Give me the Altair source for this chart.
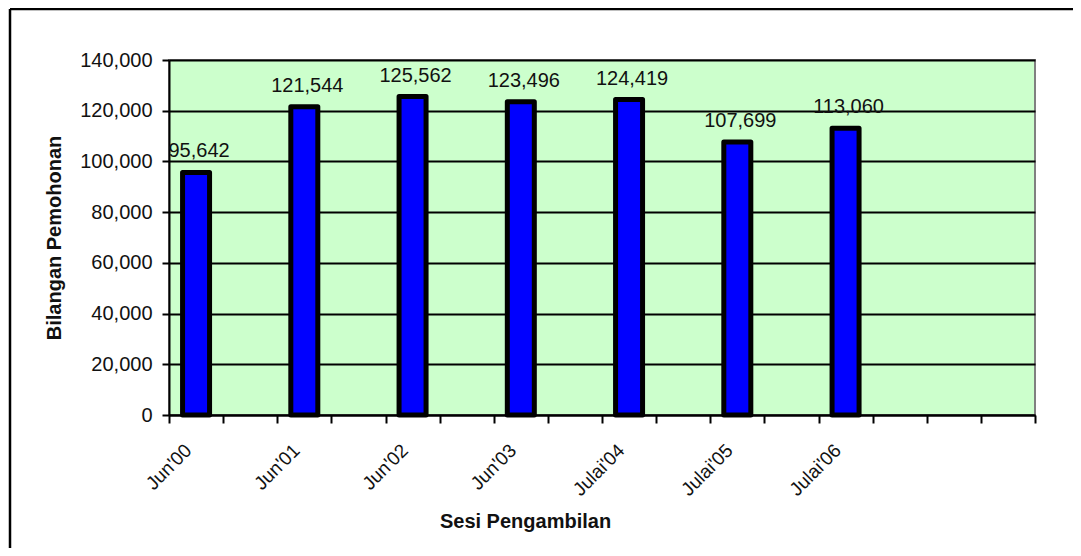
import altair as alt
import pandas as pd

# Data
sessions = ["Jun'00", "Jun'01", "Jun'02", "Jun'03", "Julai'04", "Julai'05", "Julai'06"]
applicants = [95642, 121544, 125562, 123496, 124419, 107699, 113060]
y_ticks = [0, 20000, 40000, 60000, 80000, 100000, 120000, 140000]

# category slots: every session is followed by an empty slot, plus two trailing empty slots
slots = []
for i, s in enumerate(sessions):
    slots.append(s)
    slots.append(f"_gap{i}")
slots += ["_gap7", "_gap8"]

df = pd.DataFrame({"Sesi": sessions, "Bilangan": applicants})

W, H = 866, 355
FONT = "Liberation Sans"

x_enc = alt.X(
    "Sesi:N",
    scale=alt.Scale(domain=slots, paddingInner=0, paddingOuter=0),
    sort=slots,
    axis=alt.Axis(
        title="Sesi Pengambilan",
        labelExpr="indexof(datum.label, '_') == 0 ? '' : datum.label",
        labelAngle=-45,
        labelAlign="right",
        labelBaseline="middle",
        labelOffset=-8,
        labelPadding=24,
        labelFontSize=19,
        labelFont=FONT,
        labelColor="#111111",
        tickBand="extent",
        tickSize=8,
        tickWidth=2,
        tickColor="black",
        domainColor="black",
        domainWidth=2,
        grid=False,
        titleFont=FONT,
        titleFontSize=20,
        titleFontWeight="bold",
        titleColor="#111111",
        titleX=356,
        titleY=112,
        titleAlign="center",
        titleBaseline="alphabetic",
    ),
)

y_enc = alt.Y(
    "Bilangan:Q",
    scale=alt.Scale(domain=[0, 140000], nice=False),
    axis=alt.Axis(
        title="Bilangan Pemohonan",
        values=y_ticks,
        format=",d",
        labelFontSize=20,
        labelFont=FONT,
        labelColor="#111111",
        labelPadding=10,
        tickSize=7,
        tickWidth=2,
        tickColor="black",
        domainColor="black",
        domainWidth=2,
        grid=True,
        gridColor="black",
        gridWidth=2,
        gridOpacity=1,
        titleFont=FONT,
        titleFontSize=20,
        titleFontWeight="bold",
        titleColor="#111111",
        titleX=-109,
        titleY=H / 2,
        titleAlign="center",
        titleBaseline="alphabetic",
    ),
)

base = alt.Chart(df)

bars = base.mark_bar(
    size=27, color="#0000FF", stroke="black", strokeWidth=5, strokeJoin="round"
).encode(x=x_enc, y=y_enc)

labels = base.mark_text(
    baseline="alphabetic", dy=-15, dx=3, fontSize=20, font=FONT, color="#111111"
).encode(
    x=alt.X("Sesi:N", scale=alt.Scale(domain=slots, paddingInner=0, paddingOuter=0), sort=slots),
    y="Bilangan:Q",
    text=alt.Text("Bilangan:Q", format=",d"),
)

frame_df = pd.DataFrame({"k": [0]})
frame_top = alt.Chart(frame_df).mark_rule(color="black", strokeWidth=2.5).encode(
    x=alt.value(-159), x2=alt.value(W + 40), y=alt.value(-51)
)
frame_left = alt.Chart(frame_df).mark_rule(color="black", strokeWidth=2.5).encode(
    x=alt.value(-159), y=alt.value(-51), y2=alt.value(H + 140)
)

chart = (
    alt.layer(bars, labels, frame_top, frame_left)
    .properties(
        width=W,
        height=H,
        autosize=alt.AutoSizeParams(type="none"),
        padding={"left": 161, "top": 52, "right": 38, "bottom": 133},
        background="white",
    )
    .configure_view(fill="#CCFFCC", stroke="#808080", strokeWidth=2)
)

chart.save("out.html", embed_options={"renderer": "svg", "actions": False})
